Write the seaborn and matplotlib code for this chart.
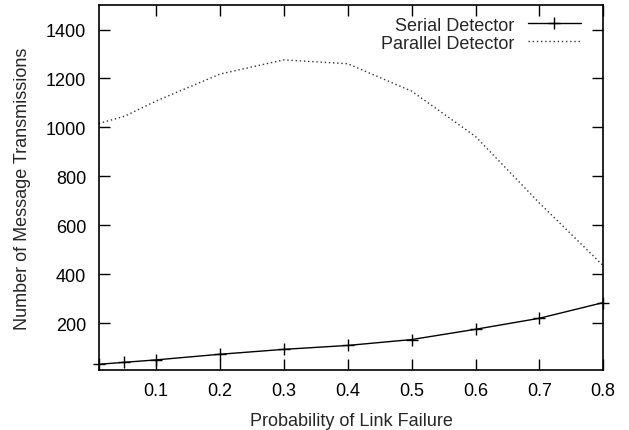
import pandas as pd
import seaborn as sns
import matplotlib.pyplot as plt

prob = [0.01, 0.05, 0.1, 0.2, 0.3, 0.4, 0.5, 0.6, 0.7, 0.8]
serial = [32, 40, 50, 73, 93, 109, 133, 175, 220, 284]
parallel = [1016, 1045, 1108, 1218, 1276, 1260, 1148, 963, 691, 435]

df = pd.concat([
    pd.DataFrame({"p": prob, "n": serial, "detector": "Serial Detector"}),
    pd.DataFrame({"p": prob, "n": parallel, "detector": "Parallel Detector"}),
])

sns.set_style("ticks")
plt.rcParams["font.family"] = ["Liberation Sans", "DejaVu Sans"]
fs = 13

fig = plt.figure(figsize=(6.29, 4.31), dpi=100)
ax = fig.add_axes([0.157, 0.140, 0.802, 0.846])

sns.lineplot(data=df[df.detector == "Serial Detector"], x="p", y="n",
             color="black", lw=1, marker="+", markersize=8, mew=1,
             mec="black", label="Serial Detector", ax=ax, clip_on=False)
sns.lineplot(data=df[df.detector == "Parallel Detector"], x="p", y="n",
             color="#333333", lw=1, linestyle=(0, (1, 2)),
             label="Parallel Detector", ax=ax)

ax.set_xlim(0.01, 0.8)
ax.set_ylim(10, 1500)
ax.set_xticks([0.1, 0.2, 0.3, 0.4, 0.5, 0.6, 0.7, 0.8])
ax.set_yticks([200, 400, 600, 800, 1000, 1200, 1400])
ax.tick_params(direction="in", length=8, width=1, top=True, right=True,
               labelsize=fs, colors="black", pad=9)
for s in ax.spines.values():
    s.set_linewidth(1.2)
    s.set_color("black")
ax.set_xlabel("Probability of Link Failure", fontsize=fs, labelpad=9)
ax.set_ylabel("Number of Message Transmissions", fontsize=fs, labelpad=11)

ax.legend(loc="upper right", bbox_to_anchor=(0.955, 0.968), frameon=False,
          markerfirst=False, fontsize=fs, handlelength=2.9,
          borderaxespad=0, borderpad=0, labelspacing=0.05,
          handletextpad=0.75)

fig.savefig("out.png", dpi=100)
